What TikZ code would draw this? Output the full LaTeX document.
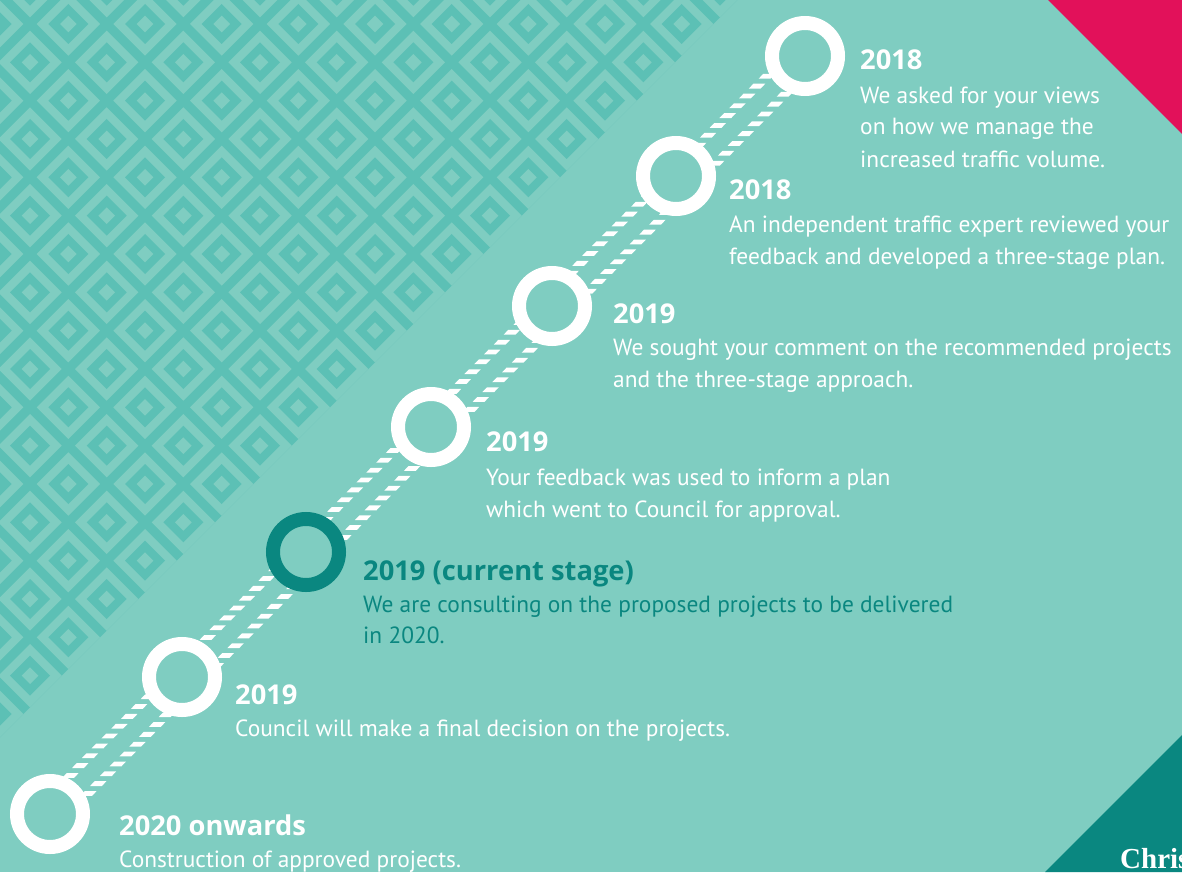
\documentclass[tikz,border=0pt]{standalone}
\usepackage{fontspec}
\setmainfont{PT Sans}
\newfontfamily\headf{Open Sans}
\newfontfamily\serifc{Liberation Serif}
\usetikzlibrary{decorations.markings}
\definecolor{bgc}{HTML}{7FCDC1}
\definecolor{patc}{HTML}{5CC0B5}
\definecolor{redc}{HTML}{E2115A}
\definecolor{darkc}{HTML}{0A8780}
\begin{document}
\begin{tikzpicture}[x=1pt,y=-1pt,
  ring/.style={circle, draw=white, line width=14pt, fill=bgc, minimum size=66pt, inner sep=0pt},
  darkring/.style={ring, draw=darkc},
  head/.style={anchor=base west, inner sep=0pt, text=white, font=\headf\fontsize{27.3}{32}\selectfont\bfseries},
  body/.style={anchor=base west, inner sep=0pt, text=white, font=\fontsize{23.4}{32}\selectfont},
  road/.style={decorate, decoration={markings, mark=between positions 0 and 1 step 13.9pt with {\pgftransformresetnontranslations \fill[white] (-8.2,2.4) -- (3.6,2.4) -- (8.2,-2.4) -- (-3.6,-2.4) -- cycle;}}}
]
\useasboundingbox (0,0) rectangle (1182,872);
\fill[bgc] (0,0) rectangle (1182,872);
% pattern
\fill[patc] (0,0) -- (737.4,0) -- (0,737.4) -- cycle;
\foreach \i in {0,...,19}{
  \foreach \j in {-1,...,19}{
    \pgfmathtruncatemacro{\s}{\i+\j}
    \ifodd\s\else\ifnum\s<19
      \pgfmathsetmacro{\cx}{-8.33+38.333*\i}
      \pgfmathsetmacro{\cy}{24+38.333*\j}
      \fill[bgc,shift={(\cx,\cy)}] (-31.67,0) -- (0,-31.67) -- (31.67,0) -- (0,31.67) -- cycle;
      \fill[patc,shift={(\cx,\cy)}] (-20,0) -- (0,-20) -- (20,0) -- (0,20) -- cycle;
      \fill[bgc,shift={(\cx,\cy)}] (-8.33,0) -- (0,-8.33) -- (8.33,0) -- (0,8.33) -- cycle;
    \fi\fi
  }
}
% corner triangles
\fill[redc] (1048,0) -- (1182,0) -- (1182,134) -- cycle;
\fill[darkc] (1182,735) -- (1182,872) -- (1045,872) -- cycle;
\node[anchor=base west, inner sep=0pt, text=white, font=\serifc\fontsize{29}{29}\selectfont\bfseries] (brand) at (1120,868) {Chris};
% circle centres
\coordinate (p1) at (805,56);
\coordinate (p2) at (676,176);
\coordinate (p3) at (552,306);
\coordinate (p4) at (431,427);
\coordinate (p5) at (306,552);
\coordinate (p6) at (182,677);
\coordinate (p7) at (50,814);
% road
\path[road] ([shift={(-9,-9)}]p7) -- ([shift={(-9,-9)}]p1);
\path[road] ([shift={(9,9)}]p7) -- ([shift={(9,9)}]p1);
% circles
\node[ring] (c1) at (p1) {};
\node[ring] (c2) at (p2) {};
\node[ring] (c3) at (p3) {};
\node[ring] (c4) at (p4) {};
\node[darkring] (c5) at (p5) {};
\node[ring] (c6) at (p6) {};
\node[ring] (c7) at (p7) {};
% texts
\node[head] (h1) at (860,70) {2018};
\node[body] (b1a) at (860,103) {We asked for your views};
\node[body] (b1b) at (860,135) {on how we manage the};
\node[body] (b1c) at (860,167) {increased traffic volume.};
\node[head] (h2) at (729,199) {2018};
\node[body] (b2a) at (729,232) {An independent traffic expert reviewed your};
\node[body] (b2b) at (729,264) {feedback and developed a three-stage plan.};
\node[head] (h3) at (613,323) {2019};
\node[body] (b3a) at (613,355) {We sought your comment on the recommended projects};
\node[body] (b3b) at (613,387) {and the three-stage approach.};
\node[head] (h4) at (486,451) {2019};
\node[body] (b4a) at (486,485) {Your feedback was used to inform a plan};
\node[body] (b4b) at (486,517) {which went to Council for approval.};
\node[head, text=darkc] (h5) at (363,580) {2019 (current stage)};
\node[body, text=darkc] (b5a) at (363,612) {We are consulting on the proposed projects to be delivered};
\node[body, text=darkc] (b5b) at (363,643) {in 2020.};
\node[head] (h6) at (235,704) {2019};
\node[body] (b6a) at (235,736) {Council will make a final decision on the projects.};
\node[head] (h7) at (119,835) {2020 onwards};
\node[body] (b7a) at (119,867) {Construction of approved projects.};
\end{tikzpicture}
\end{document}
